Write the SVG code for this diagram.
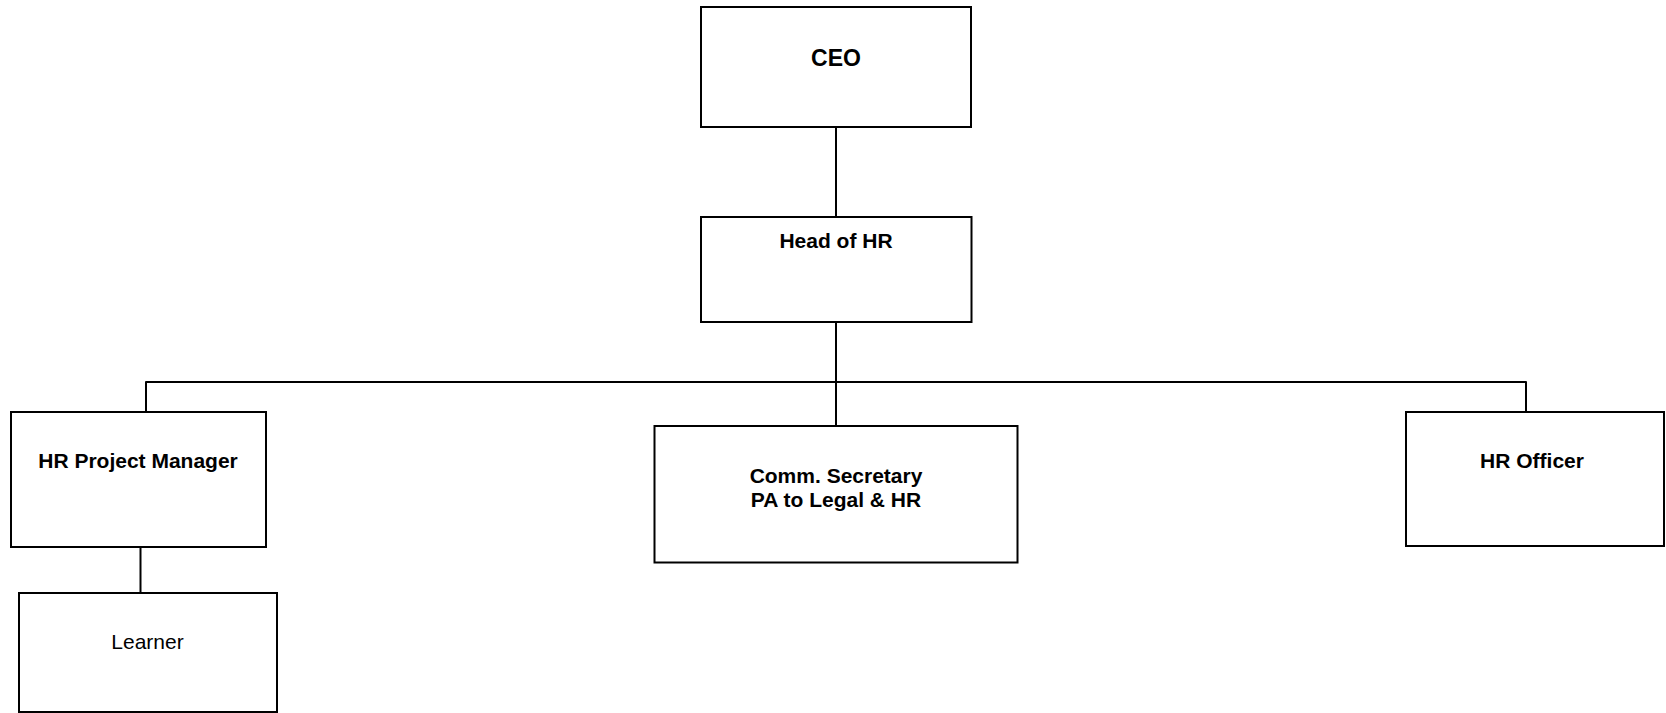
<svg xmlns="http://www.w3.org/2000/svg" width="1666" height="713" viewBox="0 0 1666 713">
<style>
.box{fill:#fff;stroke:#000;stroke-width:2}
.conn{fill:none;stroke:#000;stroke-width:2;stroke-linejoin:round}
text{font-family:"Liberation Sans",Arial,sans-serif;font-size:21px;fill:#000;text-anchor:middle}
.b{font-weight:bold}
</style>
<rect width="1666" height="713" fill="#fff"/>
<g id="connectors">
<path class="conn" d="M836 127 V217"/>
<path class="conn" d="M836 322 V426"/>
<path class="conn" d="M146 412 V382 H1526 V412"/>
<path class="conn" d="M140.5 547 V593"/>
</g>
<g id="ceo"><rect class="box" x="701" y="7" width="270" height="120"/><text class="b" x="836" y="66" style="font-size:23px">CEO</text></g>
<g id="head-hr"><rect class="box" x="701" y="217" width="270.5" height="105"/><text class="b" x="836" y="248">Head of HR</text></g>
<g id="hr-pm"><rect class="box" x="11" y="412" width="255" height="135"/><text class="b" x="138" y="468">HR Project Manager</text></g>
<g id="comm-sec"><rect class="box" x="654.5" y="426" width="363" height="136.5"/><text class="b" x="836" y="483">Comm. Secretary</text><text class="b" x="836" y="507">PA to Legal &amp; HR</text></g>
<g id="hr-officer"><rect class="box" x="1406" y="412" width="258" height="134"/><text class="b" x="1532" y="468">HR Officer</text></g>
<g id="learner"><rect class="box" x="19" y="593" width="258" height="119"/><text x="147.5" y="649">Learner</text></g>
</svg>
